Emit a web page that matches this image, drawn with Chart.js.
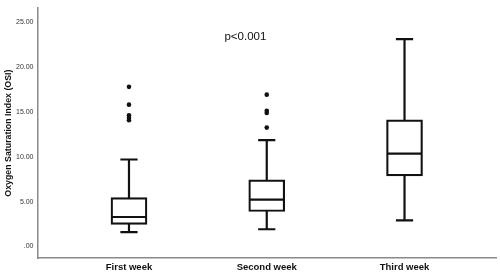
<!DOCTYPE html>
<html>
<head>
<meta charset="utf-8">
<script src="https://cdn.jsdelivr.net/npm/chart.js@4/dist/chart.umd.min.js"></script>
<style>
  html, body { margin: 0; padding: 0; background: #fff; }
  canvas { display: block; }
</style>
</head>
<body>
<canvas id="chart" width="500" height="272"></canvas>
<script>
// box plot values (OSI)
const categories = ["First week", "Second week", "Third week"];
const whiskerLow = [1.59, 1.91, 2.89];
const q1 = [2.45, 3.89, 7.86];
const median = [3.28, 5.22, 10.35];
const q3 = [5.44, 7.43, 14.13];
const whiskerHigh = [9.70, 11.86, 23.14];
const firstWeekOutliers = [17.81, 15.82, 14.63, 14.35, 14.09];
const secondWeekOutliers = [16.94, 15.14, 14.89, 13.26];
const thirdWeekOutliers = [];
const yTicks = [0, 5, 10, 15, 20, 25];
const annotation = "p<0.001";

const outlierPoints = [firstWeekOutliers, secondWeekOutliers, thirdWeekOutliers]
  .flatMap((list, i) => list.map((v) => ({ x: i + 1, y: v })));

// whiskers, caps and medians drawn with the chart's own scales
const boxplotExtras = {
  id: "boxplotExtras",
  beforeDatasetsDraw(chart) {
    const { ctx, scales: { x, y } } = chart;
    ctx.save();
    ctx.strokeStyle = "#111";
    ctx.lineWidth = 2.2;
    categories.forEach((c, i) => {
      const cx = x.getPixelForValue(i + 1);
      const capHalf = x.getPixelForValue(i + 1.0625) - cx;
      ctx.beginPath();
      ctx.moveTo(cx, y.getPixelForValue(whiskerLow[i]));
      ctx.lineTo(cx, y.getPixelForValue(whiskerHigh[i]));
      [whiskerLow[i], whiskerHigh[i]].forEach((v) => {
        const py = y.getPixelForValue(v);
        ctx.moveTo(cx - capHalf, py);
        ctx.lineTo(cx + capHalf, py);
      });
      ctx.stroke();
    });
    ctx.restore();
  },
  afterDatasetsDraw(chart) {
    const { ctx, scales: { x, y } } = chart;
    ctx.save();
    ctx.strokeStyle = "#111";
    ctx.lineWidth = 2.2;
    categories.forEach((c, i) => {
      const cx = x.getPixelForValue(i + 1);
      const half = 17;
      const py = y.getPixelForValue(median[i]);
      ctx.beginPath();
      ctx.moveTo(cx - half, py);
      ctx.lineTo(cx + half, py);
      ctx.stroke();
    });
    // p value text
    ctx.fillStyle = "#111";
    ctx.font = "11.5px 'Liberation Sans', Arial, sans-serif";
    ctx.textAlign = "center";
    ctx.textBaseline = "middle";
    ctx.fillText(annotation, x.getPixelForValue(1.845), y.getPixelForValue(23.35));
    ctx.restore();
  },
};

new Chart(document.getElementById("chart"), {
  type: "bar",
  data: {
    datasets: [
      {
        label: "box",
        data: categories.map((c, i) => ({ x: i + 1, y: [q1[i], q3[i]] })),
        backgroundColor: "#ffffff",
        borderColor: "#111",
        borderWidth: 2.2,
        borderSkipped: false,
        barThickness: 36,
        order: 2,
      },
      {
        type: "scatter",
        label: "outliers",
        data: outlierPoints,
        pointRadius: 2.3,
        pointBackgroundColor: "#111",
        pointBorderWidth: 0,
        order: 1,
      },
    ],
  },
  options: {
    responsive: false,
    animation: false,
    devicePixelRatio: 1,
    layout: { padding: { top: 0, right: 1, bottom: 0, left: 0 } },
    plugins: {
      legend: { display: false },
      tooltip: { enabled: false },
    },
    scales: {
      x: {
        type: "linear",
        offset: false,
        min: 0.336,
        max: 3.664,
        grid: { display: false, drawTicks: false },
        border: { display: true, color: "#8a8a8a", width: 1.5 },
        afterBuildTicks: (s) => { s.ticks = categories.map((c, i) => ({ value: i + 1 })); },
        afterFit: (s) => { s.height = 14; },
        ticks: {
          padding: 4,
          color: "#111",
          font: { family: "'Liberation Sans', Arial, sans-serif", size: 9.5, weight: "bold" },
          callback: (v) => categories[v - 1],
        },
      },
      y: {
        min: -1.3,
        max: 26.59,
        grid: { display: false, drawTicks: false },
        border: { display: true, color: "#8a8a8a", width: 1.5 },
        afterBuildTicks: (s) => { s.ticks = yTicks.map((v) => ({ value: v })); },
        afterFit: (s) => { s.width = 37.5; },
        ticks: {
          padding: 4,
          color: "#333",
          font: { family: "'Liberation Sans', Arial, sans-serif", size: 7 },
          callback: (v) => (v === 0 ? ".00" : v.toFixed(2)),
        },
        title: {
          display: true,
          text: "Oxygen Saturation Index (OSI)",
          color: "#111",
          padding: { top: 3, bottom: 0 },
          font: { family: "'Liberation Sans', Arial, sans-serif", size: 8.8, weight: "bold" },
        },
      },
    },
  },
  plugins: [boxplotExtras],
});
</script>
</body>
</html>
